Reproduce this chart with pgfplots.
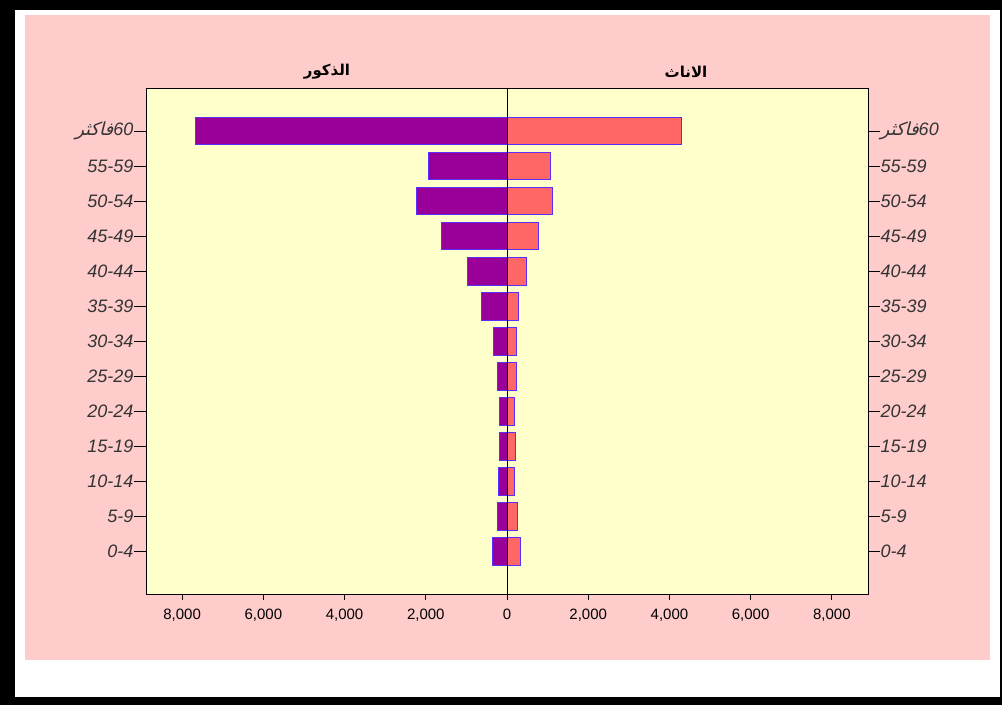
\documentclass[border=0pt]{standalone}
\usepackage{pgfplots}
\pgfplotsset{compat=1.18}
\usepackage{pgfplotstable}
\usepackage{fontspec}
\setmainfont{Liberation Sans}
\newfontfamily\arfont[Script=Arabic,FakeSlant=0.25]{DejaVu Sans}
\newfontfamily\arhead[Script=Arabic]{DejaVu Sans}
\TeXXeTstate=1
\definecolor{pinkbg}{HTML}{FFCCCC}
\definecolor{yellowbg}{HTML}{FFFFCC}
\definecolor{male}{HTML}{990099}
\definecolor{female}{HTML}{FF6666}
\definecolor{edge}{HTML}{5A2EFF}
\definecolor{lab}{HTML}{333333}

\pgfplotstableread{
idx male female
0 -355 328
1 -222 254
2 -214 180
3 -190 212
4 -190 187
5 -232 222
6 -337 222
7 -625 295
8 -985 490
9 -1620 765
10 -2225 1110
11 -1940 1075
12 -7660 4300
}\data

\newcommand{\agelabels}{0-4,5-9,10-14,15-19,20-24,25-29,30-34,35-39,40-44,45-49,50-54,55-59,{\beginR\beginL 60\endL{}{\arfont\upshape فاكثر}\endR}}

\begin{document}
\begin{tikzpicture}[x=1pt,y=1pt]
\fill[black] (0,0) rectangle (1002,705);
\fill[white] (15,8) rectangle (1000,695);
\fill[pinkbg] (25,45) rectangle (990,690);
\begin{axis}[
  at={(146pt,111pt)}, anchor=south west, scale only axis,
  width=722pt, height=506pt,
  xmin=-8890, xmax=8890, ymin=-1.21, ymax=13.23,
  axis background/.style={fill=yellowbg},
  xbar, bar width=27.5pt, bar shift=0pt,
  xtick={-8000,-6000,-4000,-2000,0,2000,4000,6000,8000},
  xticklabels={{8,000},{6,000},{4,000},{2,000},0,{2,000},{4,000},{6,000},{8,000}},
  xtick pos=bottom, ytick pos=left, tick align=outside,
  major tick length=12pt,
  xtick style={/pgfplots/major tick length=6pt},
  ytick={0,...,12},
  yticklabels/.expand once={\agelabels},
  yticklabel style={font=\fontsize{18}{21}\selectfont\itshape, text=lab, inner sep=0.5pt},
  xticklabel style={font=\fontsize{15}{17}\selectfont, text=black, inner sep=3pt},
  axis line style={black, line width=0.9pt},
  tick style={black, line width=0.9pt},
]
\addplot[fill=male, draw=edge, line width=1pt] table[x=male,y=idx]{\data};
\addplot[fill=female, draw=edge, line width=1pt] table[x=female,y=idx]{\data};
\draw[black, line width=1pt] (axis cs:0,-1.21) -- (axis cs:0,13.23);
\end{axis}
\begin{axis}[
  at={(146pt,111pt)}, anchor=south west, scale only axis,
  width=722pt, height=506pt,
  xmin=-8890, xmax=8890, ymin=-1.21, ymax=13.23,
  xtick=\empty,
  ytick={0,...,12},
  yticklabels/.expand once={\agelabels},
  ytick pos=right, yticklabel pos=right, tick align=outside,
  major tick length=12pt,
  yticklabel style={font=\fontsize{18}{21}\selectfont\itshape, text=lab, inner sep=0.5pt},
  axis line style={black, line width=0.9pt},
  tick style={black, line width=0.9pt},
]
\end{axis}
\node[font=\arhead\bfseries\fontsize{15}{17}\selectfont] at (327,633) {\beginR الذكور\endR};
\node[font=\arhead\bfseries\fontsize{15}{17}\selectfont] at (686,633) {\beginR الاناث\endR};
\end{tikzpicture}
\end{document}
